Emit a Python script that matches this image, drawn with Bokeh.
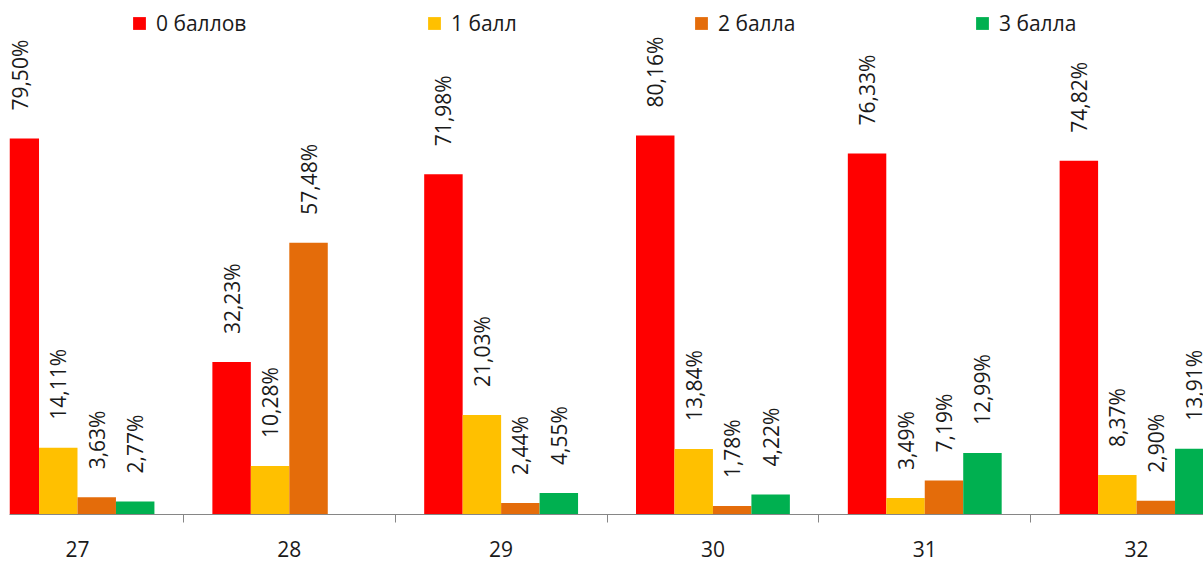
import math
from bokeh.plotting import figure
from bokeh.models import (ColumnDataSource, FixedTicker, Legend, LegendItem)
from bokeh.transform import dodge
from bokeh.core.properties import value
from bokeh.embed import file_html
from bokeh.resources import INLINE

categories = ["27", "28", "29", "30", "31", "32"]
series_names = ["0 баллов", "1 балл", "2 балла", "3 балла"]
s0 = [79.50, 32.23, 71.98, 80.16, 76.33, 74.82]
s1 = [14.11, 10.28, 21.03, 13.84, 3.49, 8.37]
s2 = [3.63, 57.48, 2.44, 1.78, 7.19, 2.90]
s3 = [2.77, None, 4.55, 4.22, 12.99, 13.91]
colors = ["#FF0000", "#FFC000", "#E46C0A", "#00B050"]

FONT = "Open Sans"
TXT = "#1a1a1a"

p = figure(width=1203, height=562, output_backend="svg", toolbar_location=None,
           x_range=(-0.321, 5.316), y_range=(0, 108.7),
           y_axis_location=None, min_border_left=9, min_border_right=0,
           min_border_top=0, min_border_bottom=48)
p.grid.visible = False
p.outline_line_color = None
p.background_fill_color = "white"
p.border_fill_color = "white"

bw = 0.1816
offsets = [-1.5 * bw, -0.5 * bw, 0.5 * bw, 1.5 * bw]
all_series = [s0, s1, s2, s3]
legend_x = [122, 417, 684, 965]

for k, (vals, name, col, off) in enumerate(zip(all_series, series_names, colors, offsets)):
    xs, ys, labs = [], [], []
    for i, v in enumerate(vals):
        if v is None:
            continue
        xs.append(i)
        ys.append(v)
        labs.append(f"{v:.2f}".replace(".", ",") + "%")
    src = ColumnDataSource(dict(x=xs, y=ys, lab=labs))
    r = p.vbar(x=dodge("x", off, range=p.x_range), top="y", width=bw, bottom=0,
               source=src, fill_color=col, line_color=None)
    p.text(x=dodge("x", off, range=p.x_range), y="y", text="lab", source=src,
           angle=math.pi / 2, text_align="left", text_baseline="middle",
           y_offset=-28, x_offset=0, text_font=value(FONT), text_font_size="21px",
           text_color=TXT)
    leg = Legend(items=[LegendItem(label=name, renderers=[r])],
                 location=(legend_x[k], 514 - 37),
                 orientation="horizontal", glyph_width=16, glyph_height=16,
                 label_standoff=9, padding=0, margin=0, border_line_color=None,
                 background_fill_alpha=0, label_text_font=FONT,
                 label_text_font_size="21px", label_text_color=TXT)
    p.add_layout(leg)

ax = p.xaxis[0]
ax.ticker = FixedTicker(ticks=list(range(len(categories))),
                        minor_ticks=[i + 0.5 for i in range(len(categories) - 1)])
ax.major_label_overrides = {i: c for i, c in enumerate(categories)}
ax.major_tick_line_color = None
ax.minor_tick_line_color = "#868686"
ax.minor_tick_out = 8
ax.minor_tick_in = 0
ax.axis_line_color = "#868686"
ax.axis_line_width = 1
ax.major_label_standoff = 18
ax.major_label_text_font = FONT
ax.major_label_text_font_size = "21px"
ax.major_label_text_color = TXT

open("out.html", "w").write(file_html(p, INLINE))
